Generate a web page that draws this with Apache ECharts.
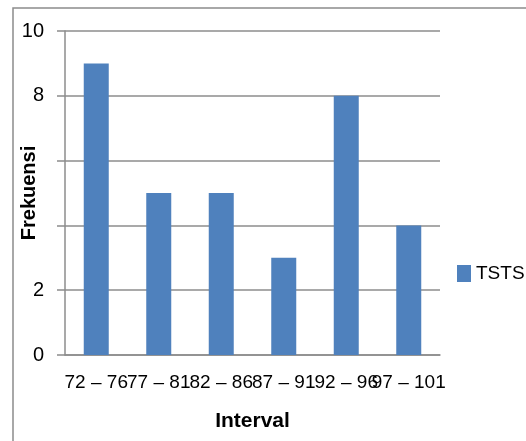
<!DOCTYPE html>
<html>
<head>
<meta charset="utf-8">
<script src="https://cdn.jsdelivr.net/npm/echarts@6/dist/echarts.min.js"></script>
<style>
  html, body { margin: 0; padding: 0; background: #fff; }
  #chart { width: 526px; height: 441px; }
</style>
</head>
<body>
<div id="chart"></div>
<script>
// Frequency distribution of TSTS scores per class interval
const intervals = ['72 – 76', '77 – 81', '82 – 86', '87 – 91', '92 – 96', '97 – 101'];
const frekuensi = [9, 5, 5, 3, 8, 4];
const yTicks = [0, 2, 4, 6, 8, 10];
// tick labels that sit underneath the rotated axis title
const hiddenTicks = [4, 6];

const chart = echarts.init(document.getElementById('chart'));
const lineGray = '#8c8c8c';
const font = "'Liberation Sans', Arial, sans-serif";

chart.setOption({
  animation: false,
  backgroundColor: '#fff',
  graphic: [{
    type: 'rect',
    shape: { x: 13, y: 8, width: 600, height: 500 },
    style: { fill: 'none', stroke: lineGray, lineWidth: 1.5 },
    silent: true
  }],
  legend: {
    data: ['TSTS'],
    left: 452,
    top: 259,
    itemWidth: 14,
    itemHeight: 17,
    itemGap: 6,
    textStyle: { fontFamily: font, fontSize: 19, color: '#000' },
    icon: 'rect'
  },
  grid: { left: 65, right: 86, top: 31, bottom: 86, containLabel: false, outerBoundsMode: 'none' },
  xAxis: {
    type: 'category',
    data: intervals,
    name: 'Interval',
    nameLocation: 'middle',
    nameGap: 56,
    nameMoveOverlap: false,
    nameTextStyle: { fontFamily: font, fontSize: 21, fontWeight: 'bold', color: '#000' },
    axisLine: { show: true, lineStyle: { color: lineGray, width: 1.5 } },
    axisTick: { show: false },
    axisLabel: { interval: 0, margin: 18, fontFamily: font, fontSize: 19, color: '#000', hideOverlap: false }
  },
  yAxis: {
    type: 'value',
    min: yTicks[0],
    max: yTicks[yTicks.length - 1],
    interval: yTicks[1] - yTicks[0],
    name: 'Frekuensi',
    nameLocation: 'middle',
    nameGap: 26,
    nameMoveOverlap: false,
    nameRotate: 90,
    nameTextStyle: { fontFamily: font, fontSize: 20, fontWeight: 'bold', color: '#000' },
    axisLine: { show: true, lineStyle: { color: lineGray, width: 1.5 } },
    axisTick: { show: true, length: 8, lineStyle: { color: lineGray, width: 1.5 } },
    axisLabel: {
      margin: 21,
      fontFamily: font,
      fontSize: 20,
      color: '#000',
      formatter: v => hiddenTicks.includes(v) ? '' : String(v)
    },
    splitLine: { show: true, lineStyle: { color: lineGray, width: 1.5 } }
  },
  series: [{
    name: 'TSTS',
    type: 'bar',
    data: frekuensi,
    barWidth: 25,
    itemStyle: { color: '#4f81bd' }
  }]
});
</script>
</body>
</html>
